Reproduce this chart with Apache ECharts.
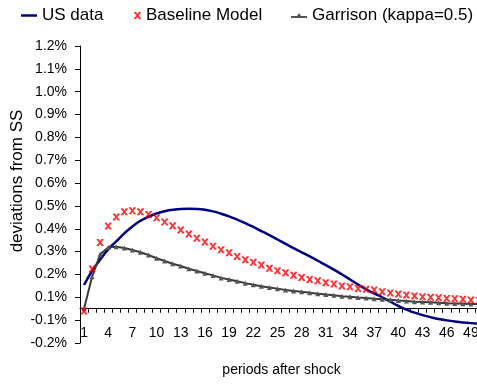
<!DOCTYPE html>
<html>
<head>
<meta charset="utf-8">
<script src="https://cdn.jsdelivr.net/npm/echarts@6/dist/echarts.min.js"></script>
<style>
  html, body { margin: 0; padding: 0; background: #fff; }
  #chart { width: 477px; height: 385px; }
</style>
</head>
<body>
<div id="chart"></div>
<script>
// Impulse responses, percent deviation from steady state, periods 1..50
const periods = [];
for (let i = 1; i <= 50; i++) periods.push(String(i));

const usData = [
  0.104, 0.165, 0.215, 0.260, 0.295, 0.330, 0.360, 0.385, 0.403, 0.417,
  0.427, 0.433, 0.437, 0.438, 0.437, 0.433, 0.426, 0.416, 0.404, 0.390,
  0.375, 0.358, 0.340, 0.322, 0.303, 0.284, 0.265, 0.247, 0.229, 0.210,
  0.191, 0.171, 0.150, 0.128, 0.106, 0.085, 0.067, 0.050, 0.031, 0.012,
  -0.004, -0.017, -0.028, -0.037, -0.045, -0.051, -0.056, -0.060, -0.063, -0.065
];

const baselineModel = [
  -0.010, 0.174, 0.290, 0.362, 0.402, 0.424, 0.429, 0.424, 0.413, 0.398,
  0.380, 0.363, 0.345, 0.327, 0.309, 0.292, 0.274, 0.258, 0.245, 0.229,
  0.214, 0.203, 0.191, 0.177, 0.166, 0.157, 0.147, 0.137, 0.128, 0.122,
  0.114, 0.108, 0.100, 0.096, 0.089, 0.085, 0.082, 0.074, 0.069, 0.064,
  0.060, 0.056, 0.052, 0.050, 0.048, 0.045, 0.044, 0.041, 0.038, 0.035
];

const garrison = [
  0.000, 0.140, 0.238, 0.268, 0.271, 0.266, 0.257, 0.247, 0.235, 0.221,
  0.209, 0.197, 0.187, 0.175, 0.165, 0.155, 0.146, 0.135, 0.128, 0.120,
  0.112, 0.105, 0.098, 0.093, 0.088, 0.082, 0.078, 0.074, 0.070, 0.066,
  0.062, 0.059, 0.055, 0.052, 0.049, 0.047, 0.044, 0.041, 0.039, 0.036,
  0.034, 0.031, 0.030, 0.028, 0.026, 0.024, 0.023, 0.022, 0.021, 0.020
];

const yMin = -0.15;
const yMax = 1.15;
const yStep = 0.1;

// Tick values sit at odd half-steps; labels are rounded half away from zero
function pctLabel(v) {
  const r = Math.sign(v) * Math.round(Math.abs(v) * 10 + 1e-9) / 10;
  return r.toFixed(1) + '%';
}

const xMarker = 'path://M0,0 L3,0 L5,3 L7,0 L10,0 L10,1.2 L6.6,5 L10,8.8 L10,10 L7,10 L5,7 L3,10 L0,10 L0,8.8 L3.4,5 L0,1.2 Z';
const lineIcon = 'path://M0,0 L16,0 L16,2.5 L0,2.5 Z';
const lineTriIcon = 'path://M0,3 L6,3 L8,0 L10,3 L16,3 L16,5 L0,5 Z';
const font = 'Liberation Sans, Arial, sans-serif';
const legendText = { fontSize: 17, color: '#000', fontFamily: font };

const gridTop = 46, gridBottom = 42, chartH = 385;
const plotH = chartH - gridTop - gridBottom;
// Lift the category axis from the grid bottom up to the zero line
const zeroOffset = -plotH * (0 - yMin) / (yMax - yMin);

const chart = echarts.init(document.getElementById('chart'), null, { renderer: 'canvas' });
chart.setOption({
  animation: false,
  backgroundColor: '#fff',
  textStyle: { fontFamily: font, color: '#000' },
  legend: [
    {
      data: [{ name: 'US data', icon: lineIcon }], left: 21, top: 7,
      itemWidth: 16, itemHeight: 2.5, itemGap: 0, padding: 0, textStyle: legendText
    },
    {
      data: [{ name: 'Baseline Model', icon: xMarker }], left: 134, top: 7,
      itemWidth: 7, itemHeight: 7, itemGap: 0, padding: 0, textStyle: legendText
    },
    {
      data: [{ name: 'Garrison (kappa=0.5)', icon: lineTriIcon }], left: 291, top: 7,
      itemWidth: 16, itemHeight: 5, itemGap: 0, padding: 0, textStyle: legendText
    }
  ],
  grid: { left: 80, right: -6, top: gridTop, bottom: gridBottom, outerBoundsMode: 'none', containLabel: false },
  xAxis: {
    type: 'category',
    data: periods,
    boundaryGap: true,
    position: 'bottom',
    offset: zeroOffset,
    name: 'periods after shock',
    nameLocation: 'middle',
    nameGap: 54,
    nameTextStyle: { fontSize: 14, color: '#000', fontFamily: font },
    axisLine: { onZero: false, lineStyle: { color: '#000', width: 1 } },
    axisTick: { show: true, interval: 0, length: 4, lineStyle: { color: '#000' } },
    axisLabel: { interval: 2, fontSize: 14, color: '#000', margin: 17, fontFamily: font },
    splitLine: { show: false }
  },
  yAxis: {
    type: 'value',
    min: yMin,
    max: yMax,
    interval: yStep,
    axisLine: { show: true, lineStyle: { color: '#000', width: 1 } },
    axisTick: { show: true, length: 5, lineStyle: { color: '#000' } },
    axisLabel: { fontSize: 14, color: '#000', margin: 13, fontFamily: font, formatter: pctLabel },
    splitLine: { show: false }
  },
  graphic: [
    {
      type: 'text',
      x: 17, y: 181,
      rotation: Math.PI / 2,
      style: {
        text: 'deviations from SS',
        font: '17px ' + font,
        fill: '#000',
        align: 'center',
        verticalAlign: 'middle'
      }
    }
  ],
  series: [
    {
      name: 'US data',
      type: 'line',
      data: usData,
      smooth: true,
      showSymbol: false,
      symbol: 'none',
      lineStyle: { color: '#000080', width: 2.5 },
      itemStyle: { color: '#000080' },
      z: 2
    },
    {
      name: 'Baseline Model',
      type: 'scatter',
      data: baselineModel,
      symbol: xMarker,
      symbolSize: 7,
      itemStyle: { color: '#ff0000' },
      z: 4
    },
    {
      name: 'Garrison (kappa=0.5)',
      type: 'line',
      data: garrison,
      symbol: 'triangle',
      symbolSize: 5,
      showSymbol: true,
      lineStyle: { color: '#3a3a3a', width: 2 },
      itemStyle: { color: '#555555', borderWidth: 0 },
      z: 3
    }
  ]
});
</script>
</body>
</html>
